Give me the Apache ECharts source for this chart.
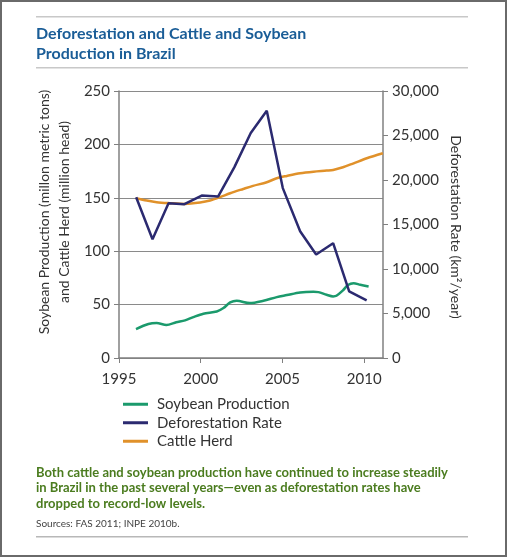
<!DOCTYPE html>
<html>
<head>
<meta charset="utf-8">
<script src="https://cdn.jsdelivr.net/npm/echarts@6/dist/echarts.min.js"></script>
<style>html,body{margin:0;padding:0;background:#fff}#c{width:510px;height:558px}</style>
</head>
<body>
<div id="c"></div>
<script>
var titleLines = ['Deforestation and Cattle and Soybean', 'Production in Brazil'];
var captionLines = ['Both cattle and soybean production have continued to increase steadily',
  'in Brazil in the past several years\u2014even as deforestation rates have',
  'dropped to record-low levels.'];
var sourceText = 'Sources: FAS 2011; INPE 2010b.';
var leftAxisName = 'Soybean Production (millon metric tons)\nand Cattle Herd (million head)';
var rightAxisName = 'Deforestation Rate (km\u00b2/year)';
var seriesNames = ['Soybean Production', 'Deforestation Rate', 'Cattle Herd'];

var deforestYears = [1996.05, 1997.05, 1998.03, 1999.0, 2000.06, 2001.06, 2002.06, 2003.06, 2004.04, 2005.02, 2006.08, 2007.06, 2008.1, 2009.08, 2010.15];
var deforestRate = [18060, 13350, 17390, 17280, 18250, 18140, 21450, 25280, 27790, 19090, 14240, 11630, 12900, 7490, 6470];

var soyYears = [1996.04, 1996.8, 1997.3, 1997.9, 1998.5, 1999.04, 1999.55, 2000.16, 2000.98, 2001.39, 2001.8, 2002.2, 2003.0, 2003.84, 2004.65, 2005.27, 2006.08, 2006.9, 2007.2, 2007.7, 2008.1, 2008.3, 2008.7, 2009.0, 2009.35, 2009.76, 2010.27];
var soyValues = [27.1, 31.8, 32.7, 30.9, 33.4, 35.2, 38.3, 41.5, 43.6, 46.8, 52, 53.6, 51.4, 53.6, 57, 58.9, 61.4, 62, 61.7, 59.2, 57.7, 58.3, 63.3, 68.3, 70.1, 68.6, 67];

var cattleYears = [1996.04, 1996.7, 1997.3, 1998.1, 1999.04, 1999.96, 2000.57, 2001.18, 2001.8, 2002.6, 2003.2, 2004.04, 2004.65, 2005.27, 2006.08, 2006.9, 2007.7, 2008.1, 2008.7, 2009.35, 2010.16, 2011.14];
var cattleValues = [149.6, 147.4, 145.9, 145, 144.3, 145.6, 147.4, 150.6, 154.3, 158.3, 161.2, 164.6, 168.3, 170.5, 173, 174.5, 175.5, 176.1, 178.6, 182.3, 187, 191.7];

function pairs(xs, ys) { return xs.map(function (x, i) { return [x, ys[i]]; }); }

var FONT = 'Lato';
var chart = echarts.init(document.getElementById('c'), null, {renderer: 'canvas'});
var axisGray = '#808080';
chart.setOption({
  animation: false,
  backgroundColor: '#fff',
  grid: {left: 119, right: 127, top: 91, bottom: 200, containLabel: false},
  xAxis: {
    type: 'value', min: 1995, max: 2011.15, interval: 5,
    axisLine: {show: true, lineStyle: {color: axisGray, width: 1.5}},
    axisTick: {show: true, length: 5, lineStyle: {color: axisGray}},
    splitLine: {show: false},
    axisLabel: {showMaxLabel: false, color: '#333', fontSize: 15, fontFamily: FONT, margin: 14,
      formatter: function (v) { return String(v); }}
  },
  yAxis: [{
    type: 'value', min: 0, max: 250, interval: 50, position: 'left',
    axisLine: {show: true, lineStyle: {color: axisGray, width: 1.5}},
    axisTick: {show: true, length: 5, lineStyle: {color: axisGray}},
    splitLine: {show: true, lineStyle: {color: '#8a8a8a', width: 1}},
    axisLabel: {color: '#333', fontSize: 15, fontFamily: FONT, margin: 9}
  }, {
    type: 'value', min: 0, max: 30000, interval: 5000, position: 'right',
    axisLine: {show: true, lineStyle: {color: axisGray, width: 1.5}},
    axisTick: {show: true, length: 5, lineStyle: {color: axisGray}},
    splitLine: {show: false},
    axisLabel: {color: '#333', fontSize: 15, fontFamily: FONT, margin: 9,
      formatter: function (v) { return v.toLocaleString('en-US'); }}
  }],
  legend: {
    orient: 'vertical', left: 118, top: 391, itemWidth: 25, itemHeight: 3, itemGap: 2,
    icon: 'rect',
    textStyle: {color: '#333', fontSize: 15, fontFamily: FONT, lineHeight: 16.5, padding: [0, 0, 0, 4]},
    data: seriesNames
  },
  series: [{
    name: seriesNames[0], type: 'line', yAxisIndex: 0, data: pairs(soyYears, soyValues),
    showSymbol: false, smooth: 0.3, lineStyle: {color: '#1b9a6c', width: 2.5}, itemStyle: {color: '#1b9a6c'}, z: 3
  }, {
    name: seriesNames[1], type: 'line', yAxisIndex: 1, data: pairs(deforestYears, deforestRate),
    showSymbol: false, lineStyle: {color: '#2b2a70', width: 2.5}, itemStyle: {color: '#2b2a70'}, z: 4
  }, {
    name: seriesNames[2], type: 'line', yAxisIndex: 0, data: pairs(cattleYears, cattleValues),
    showSymbol: false, smooth: 0.3, lineStyle: {color: '#e0912a', width: 2.5}, itemStyle: {color: '#e0912a'}, z: 2
  }],
  graphic: [
    {type: 'rect', shape: {x: 1, y: 1, width: 505, height: 555}, style: {fill: 'none', stroke: '#6a6a6a', lineWidth: 2}, silent: true},
    {type: 'rect', shape: {x: 36, y: 16, width: 432, height: 1.5}, style: {fill: '#c8c8c8'}},
    {type: 'rect', shape: {x: 36, y: 67, width: 432, height: 1.5}, style: {fill: '#c8c8c8'}},
    {type: 'rect', shape: {x: 36, y: 536, width: 432, height: 1.5}, style: {fill: '#b8b8b8'}},
    {type: 'text', x: 36, y: 24, style: {text: titleLines.join('\n'), fill: '#1a5d97', font: 'bold 16px ' + FONT, lineHeight: 20, verticalAlign: 'top'}},
    {type: 'text', x: 54, y: 212, rotation: Math.PI / 2,
      style: {text: leftAxisName, fill: '#333', font: '14px ' + FONT, lineHeight: 20, align: 'center', verticalAlign: 'middle'}},
    {type: 'text', x: 456, y: 227, rotation: -Math.PI / 2,
      style: {text: rightAxisName, fill: '#333', font: '14px ' + FONT, align: 'center', verticalAlign: 'middle'}},
    {type: 'text', x: 36, y: 464.5, style: {text: captionLines.join('\n'), fill: '#4b7c1f', font: 'bold 13px ' + FONT, lineHeight: 15.8, verticalAlign: 'top'}},
    {type: 'text', x: 36, y: 524, style: {text: sourceText, fill: '#444', font: '10px ' + FONT, verticalAlign: 'middle'}}
  ]
});
</script>
</body>
</html>
